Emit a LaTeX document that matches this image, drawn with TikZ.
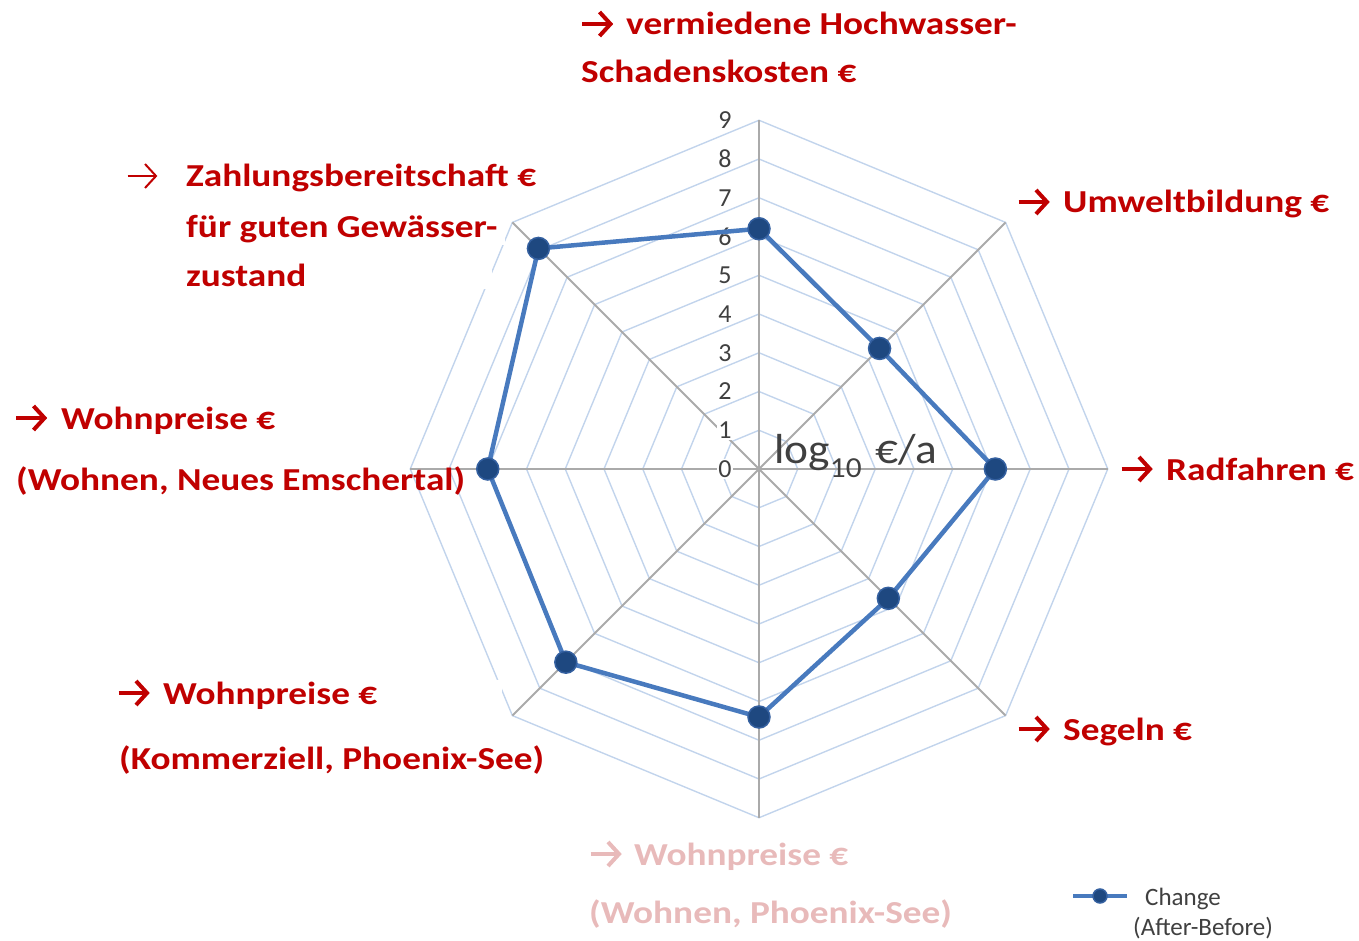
\documentclass[tikz,border=0pt]{standalone}
\usepackage{fontspec}
\setmainfont{Carlito}[FakeStretch=1.165]
\newfontfamily\legendfont{Carlito}
\newfontfamily\unitfont{Carlito}[FakeStretch=1.08]
\definecolor{gridblue}{RGB}{194,212,236}
\definecolor{axisgray}{RGB}{170,170,170}
\definecolor{seriesblue}{RGB}{72,122,190}
\definecolor{markerblue}{RGB}{30,72,128}
\definecolor{markeredge}{RGB}{52,96,160}
\definecolor{textgray}{RGB}{64,64,64}
\definecolor{labred}{RGB}{192,0,0}
\definecolor{labpink}{RGB}{232,186,186}
\tikzset{
  rarrow/.pic={
    \draw[pic actions, line cap=butt] (-15.5,0) -- (12,0);
    \draw[pic actions, line join=miter] (2,-12) -- (13,0) -- (2,12);
  }
}
% fixed-width, left-aligned label box
\newcommand{\padbox}[2]{\makebox[#1][l]{#2}}
\begin{document}
\begin{tikzpicture}[x=1pt,y=-1pt,
  grid/.style={draw=gridblue, line width=1.4pt, line join=miter},
  spoke/.style={draw=axisgray, line width=1.8pt},
  series/.style={draw=seriesblue, line width=4.5pt, line join=round},
  marker/.style={circle, fill=markerblue, draw=markeredge, line width=1.5pt,
                 minimum size=22pt, inner sep=0pt},
  tick/.style={text=textgray, font=\legendfont\fontsize{26}{28}\selectfont,
               fill=white, inner sep=1pt},
  lab/.style={text=labred, font=\fontsize{32}{38}\selectfont\bfseries,
              anchor=base west, inner sep=2pt},
  boxed/.style={fill=white},
  faded/.style={lab, text=labpink},
  legtext/.style={text=textgray, font=\legendfont\fontsize{25}{30}\selectfont,
                  anchor=base west, inner sep=0pt},
  bigarrow/.style={draw=labred, line width=4pt},
  thinarrow/.style={draw=labred, line width=2pt},
  fadedarrow/.style={draw=labpink, line width=4pt}
]
\useasboundingbox (0,0) rectangle (1359,941);

% spider-web grid and spokes
\begin{scope}[shift={(759,469)}]
  \coordinate (o) at (0,0);
  \foreach \k in {1,...,9}
    \draw[grid] (0:{\k*38.75}) -- (45:{\k*38.75}) -- (90:{\k*38.75})
      -- (135:{\k*38.75}) -- (180:{\k*38.75}) -- (225:{\k*38.75})
      -- (270:{\k*38.75}) -- (315:{\k*38.75}) -- cycle;
  \foreach \a in {0,45,...,315} {
    \coordinate (e\a) at (\a:348.75);
    \draw[spoke] (o) -- (e\a);
  }
  % data values (log10 EUR per year) on the eight axes
  \foreach \n/\a/\r in {1/-90/6.2, 2/-45/4.4, 3/0/6.1, 4/45/4.72,
                        5/90/6.4, 6/135/7.05, 7/180/7.0, 8/225/8.05}
    \coordinate (v\n) at (\a:{\r*38.75});
\end{scope}

% axis labels
\pic[bigarrow] at (597.5,24) {rarrow};
\node[lab] (top1) at (624,35) {vermiedene Hochwasser-};
\node[lab] (top2) at (579,83) {Schadenskosten €};

\pic[bigarrow] at (1034,202) {rarrow};
\node[lab, boxed] (umw) at (1061,213) {Umweltbildung €};

\pic[bigarrow] at (1137,469) {rarrow};
\node[lab] (rad) at (1164,480) {Radfahren €};

\pic[bigarrow] at (1034,729) {rarrow};
\node[lab] (seg) at (1061,740) {Segeln €};

\pic[fadedarrow] at (606,854) {rarrow};
\node[faded] (bot1) at (632,865) {Wohnpreise €};
\node[faded] (bot2) at (587,923) {(Wohnen, Phoenix-See)};

\pic[bigarrow] at (134,693) {rarrow};
\node[lab, boxed] (kom1) at (161,704) {\padbox{337pt}{Wohnpreise €}};
\node[lab] (kom2) at (117,769) {(Kommerziell, Phoenix-See)};

\pic[bigarrow] at (31.5,418) {rarrow};
\node[lab] (ems1) at (59,429) {Wohnpreise €};
\node[lab] (ems2) at (14,490) {(Wohnen, Neues Emschertal)};

\pic[thinarrow] at (143,176) {rarrow};
\node[lab] (zah1) at (184,187) {Zahlungsbereitschaft €};
\node[lab, boxed] (zah2) at (184,238) {\padbox{317pt}{für guten Gewässer-}};
\node[lab, boxed] (zah3) at (184,287) {\padbox{304pt}{zustand}};

% radial scale
\foreach \k in {0,...,9}
  \node[tick] (t\k) at (725,{469-38.75*\k}) {\k};

\node[text=textgray, font=\unitfont\fontsize{42}{48}\selectfont, anchor=base west,
      inner sep=0pt] (unit) at (774,463)
  {log{\fontsize{29}{30}\selectfont\raisebox{-14pt}{10}}\hspace{14pt}€/a};

% data series
\draw[series] (v1) -- (v2) -- (v3) -- (v4) -- (v5) -- (v6) -- (v7) -- (v8) -- cycle;
\foreach \n in {1,...,8}
  \node[marker] (m\n) at (v\n) {};

% legend
\coordinate (la) at (1073,896);
\coordinate (lb) at (1127,896);
\draw[series, line width=4pt] (la) -- (lb);
\node[marker, minimum size=14pt] (lm) at (1100,896) {};
\node[legtext] (leg1) at (1145,905) {Change};
\node[legtext] (leg2) at (1133,935) {(After-Before)};
\end{tikzpicture}
\end{document}
